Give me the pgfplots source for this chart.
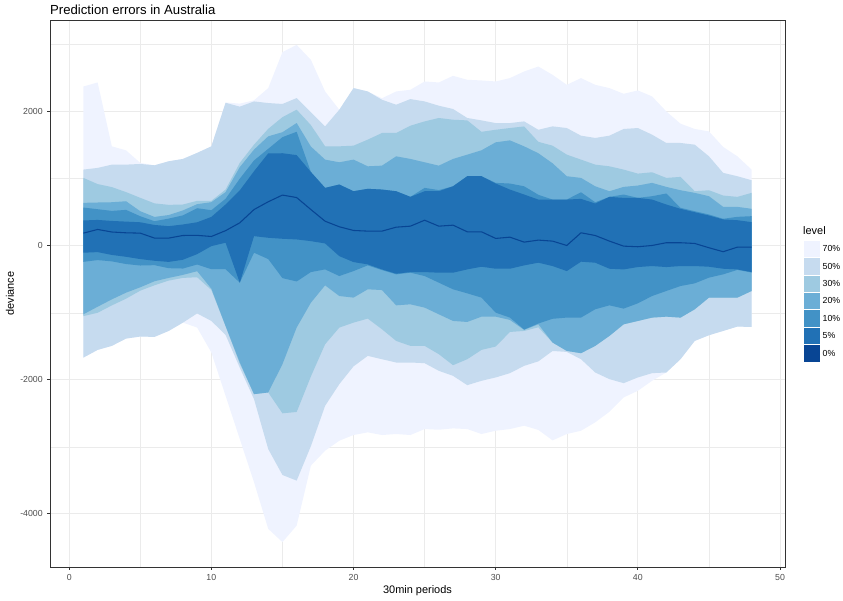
\documentclass[border=0pt]{standalone}
\usepackage{fontspec}
\setmainfont{Liberation Sans}
\usepackage{pgfplots}
\pgfplotsset{compat=1.18}
\usepgfplotslibrary{fillbetween}
\usepackage{pgfplotstable}
\definecolor{c70}{HTML}{EFF3FF}
\definecolor{c50}{HTML}{C6DBEF}
\definecolor{c30}{HTML}{9ECAE1}
\definecolor{c20}{HTML}{6BAED6}
\definecolor{c10}{HTML}{4292C6}
\definecolor{c5}{HTML}{2171B5}
\definecolor{c0}{HTML}{084594}
\definecolor{grey92}{HTML}{EBEBEB}
\definecolor{grey20}{HTML}{333333}
\definecolor{grey30}{HTML}{4D4D4D}

\pgfplotstableread{
x u70 u50 u30 u20 u10 u5 med l5 l10 l20 l30 l50 l70
1 2376 1136 1012 640 570 377 188 -104 -240 -1023 -1050 -1669 -1669
2 2436 1161 920 645 545 385 243 -95 -214 -910 -1000 -1554 -1554
3 1483 1210 875 649 520 370 205 -137 -233 -800 -890 -1494 -1494
4 1423 1210 800 664 535 360 193 -165 -273 -700 -790 -1385 -1385
5 1236 1220 715 515 440 350 188 -199 -295 -620 -670 -1355 -1355
6 1200 1200 632 430 366 310 114 -224 -290 -530 -590 -1360 -1360
7 1260 1260 610 458 405 292 114 -241 -335 -480 -520 -1271 -1271
8 1295 1295 615 527 453 317 153 -209 -340 -435 -480 -1147 -1147
9 1385 1385 670 620 560 350 155 -125 -280 -380 -470 -1010 -1221
10 1483 1483 670 650 530 430 138 -6 -350 -640 -660 -1122 -1593
11 2138 2133 838 800 700 615 225 45 -350 -1197 -1200 -1330 -2239
12 2120 2075 1236 1173 1000 826 342 -551 -551 -1740 -1760 -1820 -2884
13 2170 2153 1508 1434 1272 1111 540 143 -104 -2214 -2214 -2288 -3528
14 2352 2129 1744 1632 1446 1378 656 119 -199 -2189 -2189 -3033 -4224
15 2888 2115 1918 1694 1620 1380 756 104 -483 -1767 -2500 -3420 -4422
16 2997 2203 2030 1831 1700 1352 719 94 -533 -1220 -2480 -3504 -4175
17 2774 1990 1800 1480 1100 1100 540 69 -393 -850 -1950 -2990 -3281
18 2302 1781 1483 1285 863 863 366 34 -353 -591 -1470 -2388 -3058
19 2029 2029 1483 1245 913 913 283 -155 -452 -750 -1221 -2065 -2909
20 2352 2352 1493 1285 813 813 228 -244 -378 -774 -1147 -1800 -2824
21 2302 2302 1583 1185 849 849 218 -278 -293 -650 -1087 -1643 -2784
22 2200 2178 1682 1195 838 838 218 -353 -363 -661 -1246 -1693 -2824
23 2302 2104 1682 1334 813 813 277 -417 -427 -889 -1420 -1742 -2809
24 2327 2188 1791 1295 729 729 292 -393 -402 -874 -1494 -1742 -2824
25 2451 2153 1855 1245 863 813 381 -393 -452 -923 -1494 -1752 -2735
26 2436 2089 1906 1195 830 813 292 -402 -551 -1023 -1618 -1866 -2745
27 2535 2040 1880 1295 887 887 307 -402 -650 -1122 -1782 -1941 -2725
28 2476 1906 1870 1359 1037 1037 208 -353 -710 -1137 -1693 -2080 -2735
29 2466 1870 1700 1424 1037 1037 208 -313 -774 -1058 -1554 -2015 -2809
30 2451 1830 1730 1543 938 928 109 -343 -998 -1058 -1504 -1965 -2760
31 2501 1830 1756 1572 928 838 128 -343 -1072 -1107 -1286 -1901 -2735
32 2600 1855 1780 1483 887 764 54 -293 -1250 -1256 -1271 -1792 -2685
33 2674 1730 1550 1380 760 689 84 -253 -1160 -1172 -1217 -1725 -2748
34 2550 1781 1493 1230 689 689 69 -303 -1090 -1444 -1444 -1570 -2904
35 2401 1756 1359 1037 689 689 4 -378 -1072 -1569 -1569 -1584 -2809
36 2501 1642 1285 1012 798 699 193 -238 -1072 -1603 -1603 -1693 -2760
37 2401 1608 1210 887 649 630 153 -253 -948 -1494 -1494 -1891 -2635
38 2352 1642 1185 813 729 729 69 -343 -889 -1345 -1345 -1990 -2477
39 2267 1742 1136 878 764 714 -6 -353 -938 -1172 -1172 -2050 -2263
40 2317 1756 1076 898 714 714 -15 -318 -859 -1122 -1122 -1965 -2164
41 2228 1657 1096 938 739 689 4 -303 -750 -1072 -1072 -1901 -2015
42 2004 1533 1012 878 779 615 45 -318 -675 -1058 -1058 -1891 -1891
43 1821 1533 1027 828 566 551 45 -303 -601 -1072 -1072 -1693 -1693
44 1742 1508 813 789 515 500 34 -303 -561 -948 -948 -1420 -1420
45 1706 1334 828 739 466 451 -30 -313 -476 -774 -774 -1335 -1335
46 1474 1087 749 580 402 392 -89 -343 -427 -774 -774 -1271 -1271
47 1334 1037 729 580 431 381 -21 -353 -360 -774 -774 -1206 -1206
48 1136 977 789 551 441 352 -21 -393 -400 -675 -675 -1212 -1212
}\data

\begin{document}
\begin{tikzpicture}
\begin{axis}[
  at={(0,0)}, anchor=south west,
  scale only axis, width=735bp, height=547bp,
  xmin=-1.35, xmax=50.35, ymin=-4793, ymax=3368,
  xtick={0,10,20,30,40,50}, xticklabels={0,10,20,30,40,50},
  minor xtick={5,15,25,35,45},
  ytick={-4000,-2000,0,2000}, yticklabels={-4000,-2000,0,2000},
  minor ytick={-3000,-1000,1000,3000},
  grid=both,
  major grid style={draw=grey92, line width=1.07bp},
  minor grid style={draw=grey92, line width=0.53bp},
  tick pos=left,
  tick align=outside,
  major tick length=2.75bp,
  minor tick length=0pt,
  major tick style={draw=grey20, line width=0.8bp},
  axis line style={draw=grey20, line width=0.7bp},
  tick label style={font=\fontsize{8.8}{10}\selectfont, text=grey30},
  yticklabel style={xshift=-1bp},
  xticklabel style={yshift=-1bp},
]
\addplot[name path=u70, draw=none] table[x=x,y=u70]{\data};
\addplot[name path=l70, draw=none] table[x=x,y=l70]{\data};
\addplot[name path=u50, draw=none] table[x=x,y=u50]{\data};
\addplot[name path=l50, draw=none] table[x=x,y=l50]{\data};
\addplot[name path=u30, draw=none] table[x=x,y=u30]{\data};
\addplot[name path=l30, draw=none] table[x=x,y=l30]{\data};
\addplot[name path=u20, draw=none] table[x=x,y=u20]{\data};
\addplot[name path=l20, draw=none] table[x=x,y=l20]{\data};
\addplot[name path=u10, draw=none] table[x=x,y=u10]{\data};
\addplot[name path=l10, draw=none] table[x=x,y=l10]{\data};
\addplot[name path=u5, draw=none] table[x=x,y=u5]{\data};
\addplot[name path=l5, draw=none] table[x=x,y=l5]{\data};
\addplot[fill=c70, draw=none] fill between[of=u70 and l70];
\addplot[fill=c50, draw=none] fill between[of=u50 and l50];
\addplot[fill=c30, draw=none] fill between[of=u30 and l30];
\addplot[fill=c20, draw=none] fill between[of=u20 and l20];
\addplot[fill=c10, draw=none] fill between[of=u10 and l10];
\addplot[fill=c5, draw=none] fill between[of=u5 and l5];
\addplot[draw=c0, line width=1.07bp] table[x=x,y=med]{\data};
\end{axis}
% titles
\node[anchor=west, inner sep=0pt] at (0bp,557bp) {\fontsize{13.2}{15}\selectfont Prediction errors in Australia};
\node[anchor=center, inner sep=0pt] at (367.5bp,-24bp) {\fontsize{11}{13}\selectfont 30min periods};
\node[anchor=center, inner sep=0pt, rotate=90] at (-40bp,273.5bp) {\fontsize{11}{13}\selectfont deviance};
% legend
\node[anchor=west, inner sep=0pt] at (753bp,336bp) {\fontsize{11}{13}\selectfont level};
\foreach \c/\lab [count=\i from 0] in {c70/70\%,c50/50\%,c30/30\%,c20/20\%,c10/10\%,c5/5\%,c0/0\%}{
  \pgfmathsetmacro{\ytop}{327-17.4*\i}
  \fill[\c, draw=white, line width=0.5bp] (753bp,\ytop bp) rectangle (770.5bp,\ytop bp-17.4bp);
  \node[anchor=west, inner sep=0pt] at (772.5bp,\ytop bp-8.7bp) {\fontsize{8.8}{10}\selectfont \lab};
}
\pgfresetboundingbox
\path[use as bounding box] (-50bp,-34bp) rectangle (793bp,567bp);
\end{tikzpicture}
\end{document}
